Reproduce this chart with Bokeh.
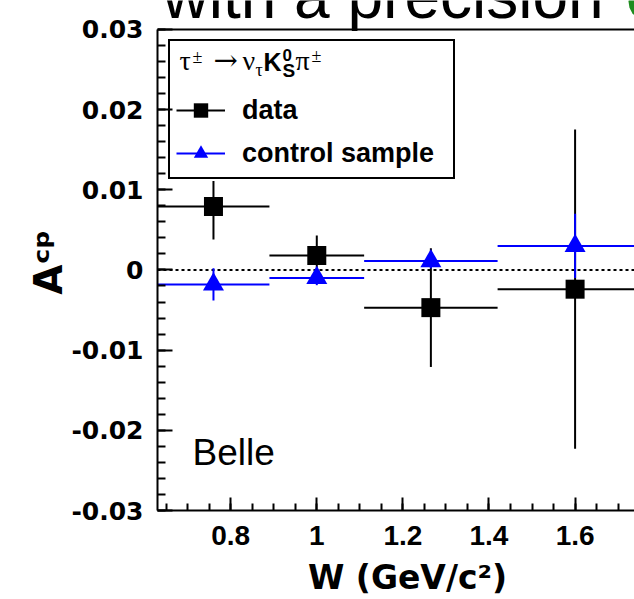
import math
from bokeh.plotting import figure
from bokeh.models import (Range1d, FixedTicker, PrintfTickFormatter, Span,
                          Label, Legend, LegendItem, PolyAnnotation, ColumnDataSource)
from bokeh.embed import file_html
from bokeh.resources import INLINE

# ---------------- data ----------------
bin_low = [0.63, 0.89, 1.11, 1.42]
bin_high = [0.89, 1.11, 1.42, 1.78]
w_center = [0.76, 1.00, 1.265, 1.60]
data_acp = [0.0079, 0.0018, -0.0047, -0.0024]
data_err_up = [0.0032, 0.0025, 0.0074, 0.0199]
data_err_dn = [0.0041, 0.0025, 0.0074, 0.0199]
ctrl_acp = [-0.0018, -0.0010, 0.0011, 0.0030]
ctrl_err = [0.0020, 0.0009, 0.0009, 0.0040]

x_ticks = [0.8, 1.0, 1.2, 1.4, 1.6]
x_tick_labels = ["0.8", "1", "1.2", "1.4", "1.6"]
y_ticks = [-0.03, -0.02, -0.01, 0.0, 0.01, 0.02, 0.03]
y_tick_labels = ["-0.03", "-0.02", "-0.01", "0", "0.01", "0.02", "0.03"]
x_minor = [round(0.65 + 0.05 * i, 2) for i in range(23)]
y_minor = [round(-0.03 + 0.002 * i, 3) for i in range(31)]
y_lo, y_hi = -0.03, 0.03

FL, FB = 157, 512          # frame left / bottom in canvas pixels
PX_PER_UNIT_Y = 8050.0      # 0.01 -> 80.5 px
y_view_top = y_lo + FB / PX_PER_UNIT_Y   # frame reaches the canvas top

p = figure(width=634, height=599, x_range=Range1d(0.63, 1.738), y_range=Range1d(y_lo, y_view_top),
           output_backend="svg", toolbar_location=None,
           min_border_left=FL, min_border_right=0, min_border_top=0, min_border_bottom=599 - FB)
p.outline_line_color = None
p.xgrid.visible = False
p.ygrid.visible = False
p.background_fill_color = "white"
p.border_fill_color = "white"

NBSP = "\u00a0"

# axes
yax = p.yaxis[0]
yax.bounds = (y_lo, y_hi)
yax.ticker = FixedTicker(ticks=y_ticks, minor_ticks=y_minor)
yax.formatter = PrintfTickFormatter(format="%g")
yax.major_label_overrides = dict(zip(y_ticks, y_tick_labels))
xax = p.xaxis[0]
xax.ticker = FixedTicker(ticks=x_ticks, minor_ticks=x_minor)
xax.formatter = PrintfTickFormatter(format="%g")
xax.major_label_overrides = dict(zip(x_ticks, x_tick_labels))
for ax in (xax, yax):
    ax.axis_line_width = 2
    ax.major_tick_line_width = 2
    ax.minor_tick_line_width = 2
    ax.major_tick_out = 0
    ax.minor_tick_out = 0
    ax.major_label_text_font_style = "bold"
    ax.major_label_text_color = "black"
    ax.axis_label_text_font = "DejaVu Sans"
    ax.axis_label_text_font_style = "bold"
    ax.axis_label_text_color = "black"
yax.major_tick_in = 15
yax.minor_tick_in = 8
yax.major_label_text_font = "DejaVu Sans"
yax.major_label_text_font_size = "25px"
yax.major_label_standoff = 14
yax.axis_label = "Aᶜᵖ" + NBSP
yax.axis_label_text_font_size = "39px"
yax.axis_label_standoff = -3
xax.major_tick_in = 13
xax.minor_tick_in = 7
xax.major_label_text_font = "Liberation Sans"
xax.major_label_text_font_size = "28px"
xax.major_label_standoff = 15
xax.axis_label = NBSP + NBSP + "W (GeV/c²)"
xax.axis_label_text_font_size = "33px"
xax.axis_label_standoff = 10

# frame top line and zero line
p.add_layout(Span(location=y_hi, dimension="width", line_width=2, line_color="black"))
p.add_layout(Span(location=0, dimension="width", line_dash="3 3", line_width=2,
                  line_color="black", level="underlay"))

# data
dsrc = ColumnDataSource(dict(x=w_center, lo=bin_low, hi=bin_high, y=data_acp,
                             ylo=[v - e for v, e in zip(data_acp, data_err_dn)],
                             yhi=[v + e for v, e in zip(data_acp, data_err_up)]))
csrc = ColumnDataSource(dict(x=w_center, lo=bin_low, hi=bin_high, y=ctrl_acp,
                             ylo=[v - e for v, e in zip(ctrl_acp, ctrl_err)],
                             yhi=[v + e for v, e in zip(ctrl_acp, ctrl_err)]))

dh = p.segment(x0="lo", x1="hi", y0="y", y1="y", source=dsrc, line_width=2, line_color="black")
dv = p.segment(x0="x", x1="x", y0="ylo", y1="yhi", source=dsrc, line_width=2, line_color="black")
dm = p.scatter(x="x", y="y", source=dsrc, marker="square", size=19, fill_color="black", line_color=None)
ch = p.segment(x0="lo", x1="hi", y0="y", y1="y", source=csrc, line_width=2, line_color="#0000ff")
cv = p.segment(x0="x", x1="x", y0="ylo", y1="yhi", source=csrc, line_width=2, line_color="#0000ff")
cm = p.scatter(x="x", y="y", source=csrc, marker="triangle", size=21, fill_color="#0000ff", line_color=None)

legend = Legend(items=[LegendItem(label="data", renderers=[dh, dm]),
                       LegendItem(label="control sample", renderers=[ch, cm])],
                location=(11, 331), padding=6, spacing=7,
                glyph_width=49, glyph_height=36, label_height=36, label_width=205, label_standoff=17,
                label_text_font="Liberation Sans", label_text_font_style="bold",
                label_text_font_size="27px", label_text_color="black",
                border_line_color="black", border_line_width=2, border_line_alpha=1,
                background_fill_alpha=0, title=" ", title_text_font_size="26px", title_standoff=14)
p.add_layout(legend)


def lab(text, cx, base, size, font="Liberation Sans", style="normal", color="black"):
    # base = wanted baseline (canvas px from top); text is anchored at its middle
    mid = base - 0.35 * size
    p.add_layout(Label(x=cx - FL, y=FB - mid, x_units="screen", y_units="screen", text=text,
                       text_font=font, text_font_style=style, text_font_size=f"{size}px",
                       text_color=color, text_align="left", text_baseline="middle",
                       level="overlay"))


# legend header: tau -> nu_tau K0_S pi
SER = "Liberation Serif"
lab("τ", 179, 72, 28, SER)
lab("±", 192, 65, 18, SER)
lab("→", 213, 72, 29, "DejaVu Serif")
lab("ν", 242, 72, 28, SER)
lab("τ", 255, 78, 18, SER)
lab("K", 263, 72, 25, "Liberation Sans", "bold")
lab("0", 282, 62, 17, "Liberation Sans", "bold")
lab("S", 282, 79, 19, "Liberation Sans", "bold")
lab("π", 295, 72, 28, SER)
lab("±", 311, 64, 18, SER)

lab("Belle", 192, 467, 37)
lab("with a precision", 162, 20, 64)


circ = [(648 + 20 * math.cos(t / 20 * 2 * math.pi), 3 + 20 * math.sin(t / 20 * 2 * math.pi)) for t in range(20)]
p.add_layout(PolyAnnotation(xs=[x - FL for x, y in circ], ys=[FB - y for x, y in circ],
                            xs_units="screen", ys_units="screen",
                            fill_color="#1e8c1e", fill_alpha=1, line_color=None))

open("out.html", "w").write(file_html(p, INLINE))
